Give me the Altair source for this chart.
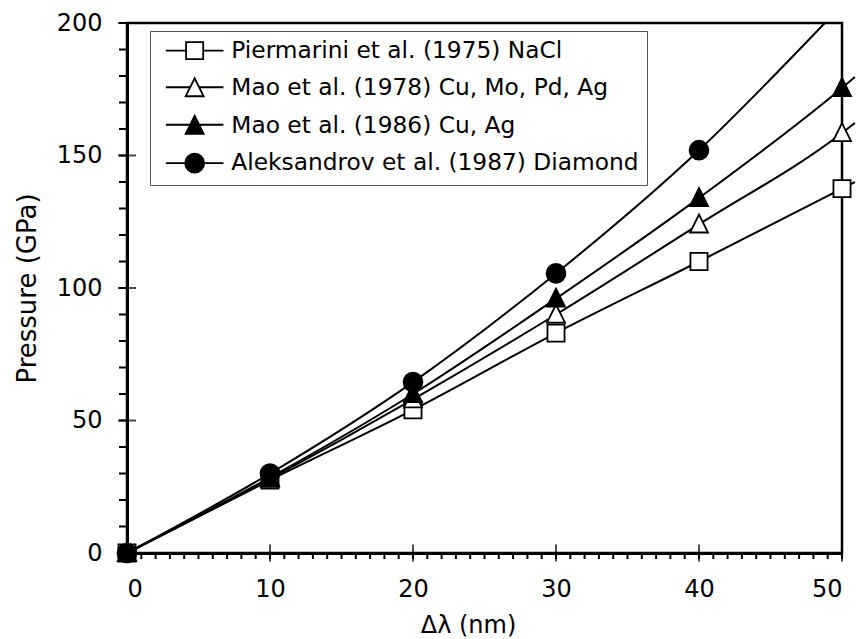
import altair as alt
import pandas as pd

# Ruby pressure-scale calibrations: pressure vs. R1 line shift
delta_nm = [0, 10, 20, 30, 40, 50]
piermarini_1975 = [0, 27.5, 54, 83, 110, 137.5]
mao_1978 = [0, 28, 58, 90, 124, 158.5]
mao_1986 = [0, 28.5, 60, 96, 134, 175.5]
aleksandrov_1987 = [0, 30, 64.5, 105.5, 152, None]

series_names = [
    "Piermarini et al. (1975) NaCl",
    "Mao et al. (1978) Cu, Mo, Pd, Ag",
    "Mao et al. (1986) Cu, Ag",
    "Aleksandrov et al. (1987) Diamond",
]
series_values = [piermarini_1975, mao_1978, mao_1986, aleksandrov_1987]

# where each curve leaves the frame
tail_delta = [50.9, 50.9, 50.9, 48.8]
tail_pressure = [140, 162.3, 179.6, 200]

x_major = [10, 20, 30, 40, 50]
x_minor = list(range(0, 51))
y_major = [0, 50, 100, 150, 200]
y_minor = list(range(0, 201, 10))

point_rows = []
for name, vals in zip(series_names, series_values):
    for d, p in zip(delta_nm, vals):
        if p is not None:
            point_rows.append({"delta": d, "pressure": p, "series": name})
points = pd.DataFrame(point_rows)

line_rows = list(point_rows)
for name, d, p in zip(series_names, tail_delta, tail_pressure):
    line_rows.append({"delta": d, "pressure": p, "series": name})
lines = pd.DataFrame(line_rows)

FONT = "DejaVu Sans"

marker_paths = [
    "M-0.95,-0.95L0.95,-0.95L0.95,0.95L-0.95,0.95Z",
    "M0,-1.1L1,0.9L-1,0.9Z",
    "M0,-1.1L1,0.9L-1,0.9Z",
    "M-1.05,0A1.05,1.05 0 1,0 1.05,0A1.05,1.05 0 1,0 -1.05,0Z",
]
legend_paths = [
    "M-3.2,0L-0.95,0M0.95,0L3.2,0M-0.95,-0.95L0.95,-0.95L0.95,0.95L-0.95,0.95Z",
    "M-3.2,-0.1L-0.5,-0.1M0.5,-0.1L3.2,-0.1M0,-1.1L1,0.9L-1,0.9Z",
    "M-3.2,-0.1L3.2,-0.1M0,-1.1L1,0.9L-1,0.9Z",
    "M-3.2,0L3.2,0M-1.05,0A1.05,1.05 0 1,0 1.05,0A1.05,1.05 0 1,0 -1.05,0Z",
]
fills = ["white", "white", "black", "black"]
strokes = ["black", "black", "black", "black"]

x_scale = alt.Scale(domain=[0, 50], nice=False, zero=False)
y_scale = alt.Scale(domain=[0, 200], nice=False, zero=False)

# axis ticks are kept for label spacing but hidden; tick marks are drawn as layers
x_axis = alt.Axis(
    values=x_major + [0], labelOverlap=False,
    tickSize=6, tickOpacity=0, labelPadding=18,
    title="Δλ  (nm)", titleX=341, titleY=79, titleAlign="center",
    titleBaseline="alphabetic", titleFontSize=24,
)
y_axis = alt.Axis(
    values=y_major, labelOverlap=False,
    tickSize=8, tickOpacity=0, labelPadding=17,
    title="Pressure (GPa)", titleX=-92, titleY=265, titleAlign="center",
    titleBaseline="alphabetic", titleAngle=270, titleFontSize=26,
)

x_enc = alt.X("delta:Q", scale=x_scale, axis=x_axis)
y_enc = alt.Y("pressure:Q", scale=y_scale, axis=y_axis)
x_zero = alt.XDatum(0, scale=x_scale, axis=x_axis)
y_zero = alt.YDatum(0, scale=y_scale, axis=y_axis)

curve_layer = alt.Chart(lines).mark_line(
    color="black", strokeWidth=2, interpolate="monotone"
).encode(x=x_enc, y=y_enc, detail="series:N", order="delta:Q")

marker_layer = alt.Chart(points).mark_point(
    filled=True, size=324, stroke="black", strokeWidth=1.8, opacity=1
).encode(
    x=x_enc, y=y_enc,
    shape=alt.Shape("series:N", scale=alt.Scale(domain=series_names, range=marker_paths), legend=None),
    fill=alt.Fill("series:N", scale=alt.Scale(domain=series_names, range=fills), legend=None),
)

key = alt.Legend(
    title=None, orient="none", legendX=23, legendY=8,
    strokeColor="#555555", fillColor="white", padding=8,
    labelFont=FONT, labelFontSize=23.3, labelColor="black", labelLimit=600,
    symbolSize=324, symbolStrokeWidth=1.8,
    symbolOpacity=1, symbolOffset=25, labelOffset=25, rowPadding=11.5,
)
key_layer = alt.Chart(points).mark_point(
    filled=True, size=324, strokeWidth=1.8, opacity=0
).encode(
    x=x_enc, y=y_enc,
    shape=alt.Shape("series:N", scale=alt.Scale(domain=series_names, range=legend_paths), legend=key),
    fill=alt.Fill("series:N", scale=alt.Scale(domain=series_names, range=fills), legend=key),
    stroke=alt.Stroke("series:N", scale=alt.Scale(domain=series_names, range=strokes), legend=key),
)

# minor ticks pointing out of the frame
x_minor_ticks = alt.Chart(pd.DataFrame({"delta": x_minor})).mark_rule(
    color="black", strokeWidth=2, y2Offset=6
).encode(x=x_enc, y=y_zero, y2=alt.Y2Datum(0))

y_minor_ticks = alt.Chart(pd.DataFrame({"pressure": y_minor})).mark_rule(
    color="black", strokeWidth=2, xOffset=-8
).encode(y=y_enc, x=x_zero, x2=alt.X2Datum(0))

# major ticks crossing the frame
x_ticks = alt.Chart(pd.DataFrame({"delta": x_major})).mark_tick(
    orient="vertical", size=17, thickness=2, color="black"
).encode(x=x_enc, y=y_zero)

y_ticks = alt.Chart(pd.DataFrame({"pressure": y_major})).mark_tick(
    orient="horizontal", size=18, thickness=2, color="black"
).encode(y=y_enc, x=x_zero)

chart = alt.layer(
    curve_layer, marker_layer, key_layer, x_minor_ticks, y_minor_ticks, x_ticks, y_ticks
).resolve_scale(
    shape="independent", fill="independent", stroke="independent"
).properties(
    width=715, height=530,
    autosize=alt.AutoSizeParams(type="none"),
    padding={"left": 127, "top": 23, "right": 16, "bottom": 86},
    background="white",
).configure_axis(
    grid=False, domainColor="black", domainWidth=3,
    labelFont=FONT, labelFontSize=24, labelColor="black",
    titleFont=FONT, titleColor="black", titleFontWeight="normal",
).configure_view(
    stroke="black", strokeWidth=2.5
)

chart.save("out.html", embed_options={"renderer": "svg", "actions": False})
